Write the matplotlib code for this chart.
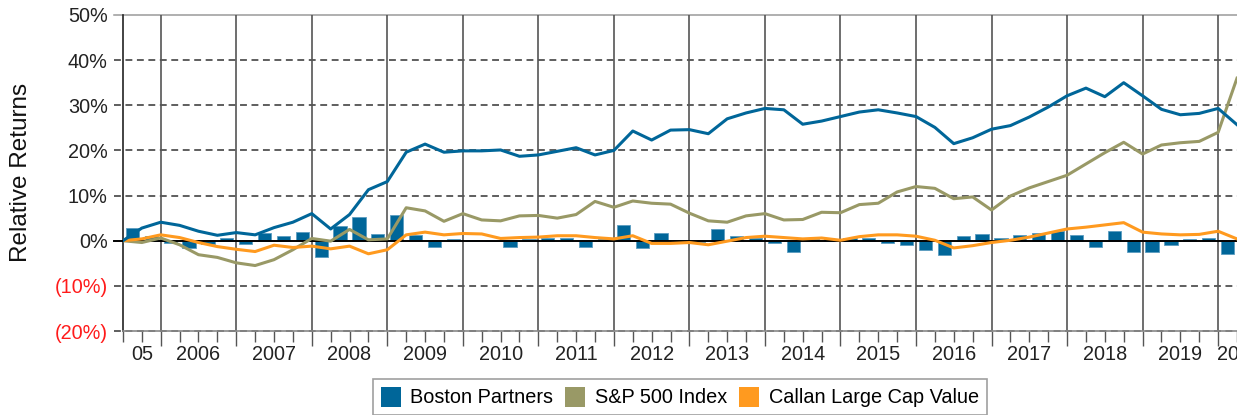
import numpy as np
import matplotlib
matplotlib.use("Agg")
from matplotlib import pyplot as plt
from matplotlib.patches import Patch
from matplotlib.transforms import blended_transform_factory

plt.rcParams["font.family"] = ["Liberation Sans", "DejaVu Sans"]

# quarter-end points from 2005 Q2 to 2020 Q1 (cumulative relative returns, %)
boston_cum = [0.0, 2.8, 4.1, 3.4, 2.1, 1.2, 1.8, 1.3, 2.9, 4.1, 6.0,
              2.6, 5.8, 11.3, 13.1, 19.6, 21.4, 19.6, 19.9, 19.9, 20.1, 18.7,
              19.0, 19.8, 20.6, 19.0, 20.0, 24.3, 22.3, 24.5, 24.6, 23.7,
              27.0, 28.3, 29.3, 29.0, 25.8, 26.5, 27.5, 28.5, 29.0, 28.3,
              27.5, 25.1, 21.5, 22.8, 24.7, 25.5, 27.4, 29.6, 32.1, 33.8,
              31.9, 35.0, 32.1, 29.1, 27.9, 28.2, 29.3, 25.7]
sp500_cum = [0.0, -0.4, 0.6, -0.9, -3.1, -3.7, -4.9, -5.5, -4.2, -2.0, 0.5,
             -0.1, 2.5, 0.2, 0.4, 7.3, 6.6, 4.3, 6.0, 4.6, 4.4, 5.5,
             5.6, 5.0, 5.8, 8.7, 7.4, 8.8, 8.3, 8.1, 6.1, 4.4,
             4.1, 5.5, 6.0, 4.6, 4.7, 6.3, 6.2, 8.0, 8.3, 10.8,
             12.0, 11.6, 9.3, 9.7, 6.8, 9.9, 11.7, 13.1, 14.5, 17.0,
             19.5, 21.8, 19.2, 21.2, 21.7, 22.0, 24.0, 36.0]
callan_cum = [0.0, 0.4, 1.3, 0.7, -0.4, -1.3, -1.9, -2.4, -1.0, -1.5, -1.2,
              -1.8, -1.2, -2.9, -2.0, 1.3, 1.9, 1.3, 1.6, 1.5, 0.5, 0.7,
              0.8, 1.1, 1.1, 0.7, 0.4, 1.1, -0.6, -0.6, -0.4, -0.9,
              -0.1, 0.7, 1.0, 0.7, 0.4, 0.6, 0.1, 0.9, 1.3, 1.3,
              1.0, 0.1, -1.6, -1.1, -0.4, 0.1, 0.8, 1.7, 2.6, 3.0,
              3.5, 4.0, 1.9, 1.5, 1.3, 1.4, 2.1, 0.4]
# quarterly relative returns, 2005 Q3 .. 2020 Q1
boston_qtr = [2.8, 1.1, -0.6, -1.6, -0.8, 0.6, -0.7, 1.8, 1.1, 1.9, -3.5,
              3.3, 5.2, 1.5, 5.8, 1.3, -1.5, 0.3, 0.1, -0.1, -1.4,
              0.4, 0.7, 0.7, -1.3, 0.4, 3.5, -1.7, 1.7, 0.1, -0.3,
              2.6, 1.1, 0.7, -0.4, -2.6, 0.4, 0.3, 0.7, 0.5, -0.5,
              -1.0, -2.1, -3.1, 1.0, 1.5, 0.7, 1.3, 1.7, 2.1, 1.3, -1.5,
              2.2, -2.4, -2.5, -1.0, 0.4, 0.7, -2.9]
year_labels = ["05"] + [str(y) for y in range(2006, 2020)] + ["20"]
y_levels = [-20, -10, 0, 10, 20, 30, 40, 50]

BLUE = "#006699"
OLIVE = "#999966"
ORANGE = "#FF9A1F"

n_pts = len(boston_cum)
xq = np.arange(n_pts)
xb = np.arange(len(boston_qtr)) + 0.5

fig = plt.figure(figsize=(12.37, 4.15), dpi=100)
ax = fig.add_axes([0.0994, 0.2024, 0.9006, 0.7615])
ax.set_xlim(0, n_pts - 1)
ax.set_ylim(-20, 50)

# horizontal grid, extended left of the axis like dashed ticks
for lv in y_levels:
    if lv == 0:
        continue
    ls = "-" if lv == 50 else (0, (4.5, 3))
    col = "#9a9a9a" if lv == 50 else "#333333"
    ax.axhline(lv, xmin=-0.008, xmax=1, color=col, lw=1.1, ls=ls,
               clip_on=False, zorder=1)

# year separators
year_edges = np.arange(2, n_pts, 4)
for xe in year_edges:
    ax.axvline(xe, color="#555555", lw=1.2, zorder=1)

ax.bar(xb, boston_qtr, width=0.7, color=BLUE, edgecolor="#5b9cc0",
       linewidth=0.6, zorder=2)
ax.axhline(0, xmin=-0.008, xmax=1, color="black", lw=1.4, clip_on=False, zorder=3)

ax.plot(xq, sp500_cum, color=OLIVE, lw=2.2, zorder=4)
ax.plot(xq, callan_cum, color=ORANGE, lw=2.2, zorder=5)
ax.plot(xq, boston_cum, color=BLUE, lw=2.2, zorder=6)

for side in ["top", "right"]:
    ax.spines[side].set_visible(False)
ax.spines["left"].set_color("#222222")
ax.spines["left"].set_linewidth(1.2)
ax.spines["bottom"].set_color("#888888")
ax.spines["bottom"].set_linewidth(1.2)

ax.set_yticks(y_levels)
ax.set_yticklabels([f"({abs(v)}%)" if v < 0 else f"{v}%" for v in y_levels])
for lbl, v in zip(ax.get_yticklabels(), y_levels):
    lbl.set_color("#ff1a1a" if v < 0 else "#222222")
ax.tick_params(axis="y", length=0, pad=11, labelsize=14.3)

ax.set_xticks(year_edges)
ax.set_xticks(xq, minor=True)
ax.tick_params(axis="x", which="major", length=11, width=1.0, color="#555555",
               labelbottom=False)
ax.tick_params(axis="x", which="minor", length=8, width=1.0, color="#555555")
ax.set_xticklabels([])

# year labels centred in each year's span
centers = [1.0] + [4.0 + 4 * i for i in range(14)] + [58.5]
trans = blended_transform_factory(ax.transData, ax.transAxes)
for c, lab in zip(centers, year_labels):
    ax.text(c, -0.075, lab, transform=trans, ha="center", va="center",
            fontsize=14.3, color="#222222")

fig.text(0.017, 0.585, "Relative Returns", rotation=90, ha="center", va="center",
         fontsize=17.5, color="#111111")

handles = [Patch(facecolor=BLUE, edgecolor="none", label="Boston Partners"),
           Patch(facecolor=OLIVE, edgecolor="none", label="S&P 500 Index"),
           Patch(facecolor=ORANGE, edgecolor="none", label="Callan Large Cap Value")]
leg = ax.legend(handles=handles, loc="upper center", bbox_to_anchor=(0.5, -0.12),
                ncol=3, fontsize=14.3, frameon=True, fancybox=False,
                handlelength=1.0, handleheight=1.15, handletextpad=0.5,
                columnspacing=0.6, borderpad=0.4)
leg.get_frame().set_edgecolor("#888888")
leg.get_frame().set_linewidth(1.2)

fig.savefig("out.png", dpi=100)
